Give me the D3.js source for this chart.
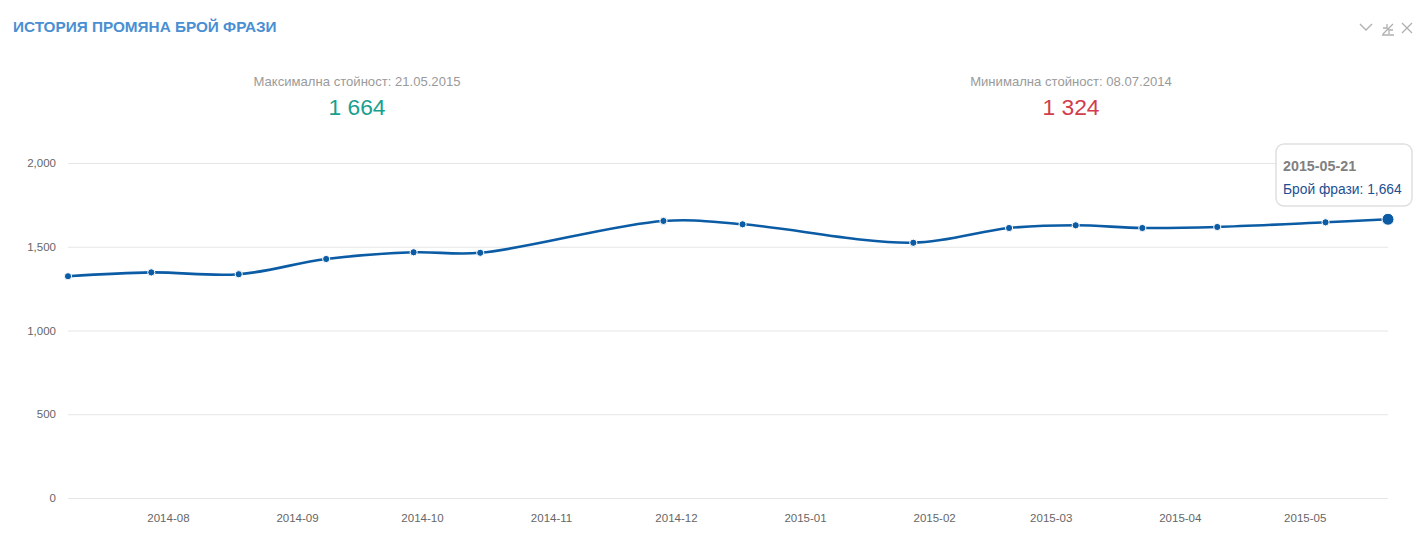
<!DOCTYPE html>
<html>
<head>
<meta charset="utf-8">
<script src="https://cdn.jsdelivr.net/npm/d3@7"></script>
<style>
  body { margin: 0; background: #fff; }
  svg { display: block; font-family: "Helvetica Neue", Helvetica, Arial, "Liberation Sans", sans-serif; }
</style>
</head>
<body>
<script>
// DATA
var dates = ["2014-07-08","2014-07-28","2014-08-18","2014-09-08","2014-09-29","2014-10-15",
             "2014-11-28","2014-12-17","2015-01-27","2015-02-19","2015-03-07","2015-03-23",
             "2015-04-10","2015-05-06","2015-05-21"];
var values = [1324,1347,1336,1427,1467,1464,1654,1634,1524,1612,1628,1612,1618,1646,1664];
var monthTicks = ["2014-08","2014-09","2014-10","2014-11","2014-12","2015-01","2015-02","2015-03","2015-04","2015-05"];
var yTicks = [0,500,1000,1500,2000];

var title = "ИСТОРИЯ ПРОМЯНА БРОЙ ФРАЗИ";
var maxLabel = "Максимална стойност: 21.05.2015", maxValue = "1 664";
var minLabel = "Минимална стойност: 08.07.2014", minValue = "1 324";
var seriesName = "Брой фрази";

//CANVAS
var svg_width = 1424, svg_height = 548;
var plotLeft = 68, plotRight = 1388, plotTop = 163, plotBottom = 498;
var lineColor = "#0b5ca5";

var parse = d3.utcParse("%Y-%m-%d");
var parseMonth = d3.utcParse("%Y-%m");
var data = dates.map(function(d, i){ return {date: parse(d), value: values[i]}; });

var svg = d3.select("body").append("svg")
  .attr("width", svg_width)
  .attr("height", svg_height);

var x = d3.scaleUtc()
  .domain(d3.extent(data, function(d){ return d.date; }))
  .range([plotLeft, plotRight]);

var y = d3.scaleLinear()
  .domain([0, 2000])
  .range([plotBottom, plotTop]);

// title
svg.append("text")
  .attr("x", 13).attr("y", 32)
  .attr("fill", "#4a8fd2")
  .attr("font-size", 15.3)
  .attr("font-weight", "bold")
  .text(title);

// icons top right
var icons = svg.append("g").attr("stroke", "#b0b0b0").attr("fill", "none").attr("stroke-width", 1.3);
icons.append("path").attr("d", "M1360,24 L1366,30 L1372,24");
icons.append("path").attr("d", "M1383,34 L1393,24 M1383,28 L1387,28 L1387,24 M1389,34 L1389,30 L1393,30 M1382,35 L1394,35");
icons.append("path").attr("d", "M1402,23 L1412,33 M1412,23 L1402,33");

// max / min stats
var stats = [
  {label: maxLabel, value: maxValue, color: "#17a08f", cx: 357},
  {label: minLabel, value: minValue, color: "#d23d4d", cx: 1071}
];
stats.forEach(function(s){
  svg.append("text").attr("x", s.cx).attr("y", 86)
    .attr("text-anchor", "middle").attr("font-size", 13.1).attr("fill", "#9a9a9a")
    .text(s.label);
  svg.append("text").attr("x", s.cx).attr("y", 115)
    .attr("text-anchor", "middle").attr("font-size", 22.8).attr("fill", s.color)
    .text(s.value);
});

// y gridlines
var yAxis = svg.append("g")
  .attr("transform", "translate(" + plotLeft + ",0)")
  .call(d3.axisLeft(y).tickValues(yTicks).tickSize(-(plotRight - plotLeft)).tickPadding(12).tickFormat(d3.format(",")));
yAxis.select(".domain").remove();
yAxis.selectAll(".tick line").attr("stroke", "#e6e6e6").attr("stroke-width", 1.2);
yAxis.selectAll(".tick text").attr("fill", "#666").attr("font-size", 11.5).attr("font-family", null);

// x axis labels
var xAxis = svg.append("g")
  .attr("transform", "translate(0," + plotBottom + ")")
  .call(d3.axisBottom(x).tickValues(monthTicks.map(parseMonth)).tickSize(0).tickPadding(16).tickFormat(d3.utcFormat("%Y-%m")));
xAxis.select(".domain").remove();
xAxis.selectAll(".tick text").attr("fill", "#666").attr("font-size", 11.5).attr("font-family", null);

// line
var line = d3.line()
  .x(function(d){ return x(d.date); })
  .y(function(d){ return y(d.value); })
  .curve(d3.curveCatmullRom.alpha(0.5));

svg.append("path")
  .datum(data)
  .attr("fill", "none")
  .attr("stroke", lineColor)
  .attr("stroke-width", 2.6)
  .attr("d", line);

svg.selectAll("circle.pt")
  .data(data)
  .enter().append("circle")
  .attr("class", "pt")
  .attr("cx", function(d){ return x(d.date); })
  .attr("cy", function(d){ return y(d.value); })
  .attr("r", function(d, i){ return i == data.length - 1 ? 6 : 3.6; })
  .attr("fill", lineColor)
  .attr("stroke", "#fff")
  .attr("stroke-width", 1);

// tooltip on last point
var last = data[data.length - 1];
var tip = svg.append("g");
var tipBox = tip.append("rect")
  .attr("rx", 8).attr("ry", 8)
  .attr("fill", "rgba(255,255,255,0.95)")
  .attr("stroke", "#e0e0e0")
  .attr("stroke-width", 1.5);
tip.append("text")
  .attr("x", 1283).attr("y", 171)
  .attr("font-size", 14.3).attr("font-weight", "bold").attr("fill", "#808080")
  .text(d3.utcFormat("%Y-%m-%d")(last.date));
var tipText = tip.append("text")
  .attr("x", 1283).attr("y", 194)
  .attr("font-size", 13.8).attr("fill", "#1d4f91")
  .text(seriesName + ": " + d3.format(",")(last.value));
var tw = tipText.node().getComputedTextLength();
tipBox.attr("x", 1276).attr("y", 144).attr("width", Math.max(136, tw + 15)).attr("height", 62);
</script>
</body>
</html>
